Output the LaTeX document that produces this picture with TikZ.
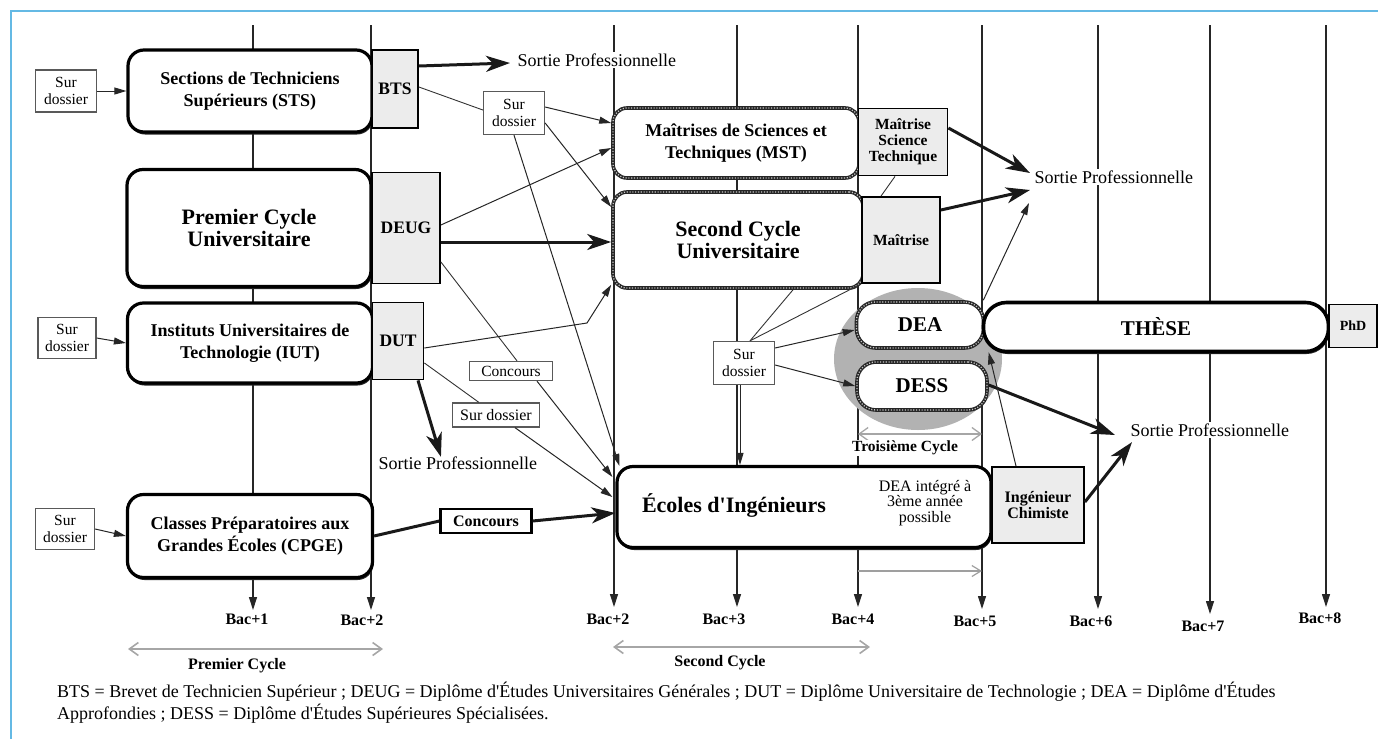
\documentclass[tikz,border=0pt]{standalone}
\usepackage{fontspec}
\setmainfont{Liberation Serif}[Ligatures=TeXOff]
\usetikzlibrary{arrows.meta,shapes.geometric,shadows,calc}
\definecolor{framecol}{RGB}{100,185,228}
\definecolor{labfill}{RGB}{236,236,236}
\begin{document}
\begin{tikzpicture}[x=1pt,y=-1pt,
  titlefont/.style={font=\bfseries\fontsize{18}{21.5}\selectfont},
  bigfont/.style={font=\bfseries\fontsize{22}{22}\selectfont},
  bigbox/.style={draw=black, line width=3.2pt, fill=white, rounded corners=16pt,
    drop shadow={shadow xshift=1pt, shadow yshift=-2.5pt, opacity=1, fill=black!85},
    titlefont, align=center, inner sep=0pt},
  dotbox/.style={draw=black!85, line width=3.6pt, fill=white, rounded corners=14pt,
    postaction={draw=gray!45, line width=1.3pt, dash pattern=on 1.1pt off 1.7pt},
    titlefont, align=center, inner sep=0pt},
  labbox/.style={draw=black, line width=1.8pt, fill=labfill, align=center, inner sep=0pt,
    font=\bfseries\fontsize{17.5}{20}\selectfont},
  sdbox/.style={draw=black!65, line width=1.3pt, fill=white, align=center, inner sep=0pt,
    font=\fontsize{15.5}{17}\selectfont},
  sortie/.style={fill=white, inner sep=1.5pt, font=\fontsize{18}{20}\selectfont},
  baclab/.style={font=\bfseries\fontsize{16}{17}\selectfont, inner sep=1pt},
  cyclab/.style={font=\bfseries\fontsize{16}{18}\selectfont, inner sep=1pt},
  axis/.style={draw=black!85, line width=1.2pt, -{Triangle[length=13pt,width=8pt]}},
  arr/.style={draw=black!85, line width=1pt, -{Triangle[length=12pt,width=7pt]}},
  thinline/.style={draw=black!80, line width=0.9pt},
  thickline/.style={draw=black!90, line width=3pt},
  thickarr/.style={draw=black!90, line width=3pt, -{Stealth[length=24pt,width=16pt,inset=7pt]}},
  cyclearr/.style={draw=gray!70, line width=1.6pt, {Straight Barb[length=9pt,width=13pt]}-{Straight Barb[length=9pt,width=13pt]}},
  openarr/.style={draw=gray!75, line width=1.2pt, -{Straight Barb[length=9pt,width=11pt]}},
  frame/.style={draw=framecol, line width=2pt}
]
\useasboundingbox (0,0) rectangle (1378,739);
% frame
\coordinate (fTL) at (11,11);
\coordinate (fTR) at (1378,11);
\coordinate (fBL) at (11,739);
\draw[frame] (fTR) -- (fTL) -- (fBL);

% time axes
\foreach \n/\x/\e in {1/253/610, 2/371/610, 3/614/607, 4/737/607, 5/858/607, 6/982/609, 7/1098/609, 8/1210/614, 9/1326/607} {
  \coordinate (top\n) at (\x,25);
  \coordinate (bot\n) at (\x,\e);
  \draw[axis] (top\n) -- (bot\n);
}
\node[baclab] (lab1) at (247,619) {Bac+1};
\node[baclab] (lab2) at (362,620) {Bac+2};
\node[baclab] (lab3) at (608,619) {Bac+2};
\node[baclab] (lab4) at (724,619) {Bac+3};
\node[baclab] (lab5) at (853,619) {Bac+4};
\node[baclab] (lab6) at (975,621) {Bac+5};
\node[baclab] (lab7) at (1091,621) {Bac+6};
\node[baclab] (lab8) at (1203,626) {Bac+7};
\node[baclab] (lab9) at (1320,618) {Bac+8};

% cycles
\coordinate (pc1) at (128,649);
\coordinate (pc2) at (383,649);
\draw[cyclearr] (pc1) -- (pc2);
\node[cyclab] (pclab) at (237,666) {Premier Cycle};
\coordinate (sc1) at (613,647);
\coordinate (sc2) at (870,647);
\draw[cyclearr] (sc1) -- (sc2);
\node[cyclab] (sclab) at (720,663) {Second Cycle};

% grey blob
\node[ellipse, fill=gray!60, minimum width=168pt, minimum height=142pt, inner sep=0pt] (blob) at (918,359) {};

% left column
\node[sdbox, minimum width=61pt, minimum height=42pt] (sd1) at (66,91) {Sur\\dossier};
\node[sdbox, minimum width=58pt, minimum height=41pt] (sd2) at (67,338) {Sur\\dossier};
\node[sdbox, minimum width=59pt, minimum height=41pt] (sd3) at (65,529) {Sur\\dossier};

\node[bigbox, minimum width=244pt, minimum height=82pt] (sts) at (250,91) {Sections de Techniciens\\Supérieurs (STS)};
\node[labbox, minimum width=46pt, minimum height=78pt] (bts) at (395,89) {BTS};
\node[bigbox, bigfont, minimum width=244pt, minimum height=117pt] (pcu) at (249,228) {Premier Cycle\\Universitaire};
\node[labbox, minimum width=68pt, minimum height=111pt] (deug) at (406,228) {DEUG};
\node[bigbox, minimum width=245pt, minimum height=80pt] (iut) at (250,343) {Instituts Universitaires de\\Technologie (IUT)};
\node[labbox, minimum width=51pt, minimum height=77pt] (dut) at (398,341) {DUT};
\node[bigbox, minimum width=245pt, minimum height=83pt] (cpge) at (250,536) {Classes Préparatoires aux\\Grandes Écoles (CPGE)};

% middle
\node[sortie, anchor=west] (sortieA) at (516,60) {Sortie Professionnelle};
\node[sortie, anchor=west] (sortieB) at (377,463) {Sortie Professionnelle};
\node[sdbox, minimum width=61pt, minimum height=43pt] (sd4) at (514,113) {Sur\\dossier};
\node[sdbox, minimum width=83pt, minimum height=19pt] (conc1) at (511,371) {Concours};
\node[sdbox, minimum width=87pt, minimum height=24pt, font=\fontsize{16}{18}\selectfont] (sd5) at (496,415) {Sur dossier};
\node[draw=black, line width=2.2pt, fill=white, inner sep=0pt, minimum width=91pt, minimum height=24pt, font=\bfseries\fontsize{16}{18}\selectfont] (conc2) at (486,521) {Concours};

% second cycle
\node[dotbox, minimum width=246pt, minimum height=70pt] (mst) at (736,143) {Maîtrises de Sciences et\\Techniques (MST)};
\node[labbox, font=\bfseries\fontsize{15.5}{16}\selectfont, minimum width=89pt, minimum height=67pt] (mstlab) at (903,142) {Maîtrise\\Science\\Technique};
\node[dotbox, bigfont, minimum width=250pt, minimum height=96pt] (scu) at (738,240) {Second Cycle\\Universitaire};
\node[labbox, font=\bfseries\fontsize{15.5}{16}\selectfont, minimum width=78pt, minimum height=86pt] (maitrise) at (901,240) {Maîtrise};

% third cycle
\node[dotbox, font=\bfseries\fontsize{21}{22}\selectfont, rounded corners=19pt, minimum width=127pt, minimum height=46pt] (dea) at (920,325) {DEA};
\node[dotbox, font=\bfseries\fontsize{21}{22}\selectfont, rounded corners=19pt, minimum width=130pt, minimum height=48pt] (dess) at (922,386) {DESS};
\node[bigbox, font=\bfseries\fontsize{21}{22}\selectfont, rounded corners=23pt, line width=3.6pt, minimum width=345pt, minimum height=49pt] (these) at (1156,327) {THÈSE};
\node[labbox, font=\bfseries\fontsize{14}{16}\selectfont, minimum width=48pt, minimum height=43pt] (phd) at (1353,326) {PhD};
\node[sdbox, minimum width=61pt, minimum height=43pt] (sd6) at (744,363) {Sur\\dossier};
\coordinate (tc1) at (858,434);
\coordinate (tc2) at (982,434);
\draw[cyclearr, line width=1.3pt] (tc1) -- (tc2);
\node[cyclab, fill=white, font=\bfseries\fontsize{15.5}{17}\selectfont] (tclab) at (905,448) {Troisième Cycle};

% ecoles
\node[bigbox, minimum width=374pt, minimum height=81pt] (ecoles) at (804,507) {};
\node[bigfont, inner sep=0pt] (ecoltxt) at (734,505) {Écoles d'Ingénieurs};
\node[align=center, inner sep=0pt, font=\fontsize{16}{15.5}\selectfont] (deaint) at (925,503) {DEA intégré à\\3ème année\\possible};
\node[labbox, font=\bfseries\fontsize{16}{16.7}\selectfont, minimum width=92pt, minimum height=76pt] (ingchim) at (1038,505) {Ingénieur\\Chimiste};
\coordinate (oa1) at (858,571);
\coordinate (oa2) at (982,571);
\draw[openarr] (oa1) -- (oa2);

% right sorties
\node[sortie, anchor=west] (sortieC) at (1033,177) {Sortie Professionnelle};
\node[sortie, anchor=west] (sortieD) at (1129,430) {Sortie Professionnelle};

% connectors
\draw[arr] (sd1.east) -- (sts.west);
\draw[arr] (sd2.east) -- (iut.west);
\draw[arr] (sd3.east) -- (cpge.west);
\draw[thickarr] ([yshift=23pt]bts.east) -- ([xshift=-6pt,yshift=-3pt]sortieA.west);
\draw[thinline] ([yshift=2pt]bts.east) -- ([yshift=3pt]sd4.west);
\draw[arr] ([yshift=6pt]sd4.east) -- ([yshift=20pt]mst.west);
\draw[arr] ([yshift=-10pt]sd4.east) -- ([yshift=33pt]scu.west);
\draw[arr] (sd4.south) -- ([xshift=4pt,yshift=-1pt]ecoles.north west);
\draw[arr] ([yshift=3pt]deug.east) -- ([yshift=-5pt]mst.west);
\draw[thickarr] ([yshift=-14pt]deug.east) -- ([yshift=-2pt]scu.west);
\draw[thinline] ([yshift=-34pt]deug.east) -- ([xshift=6pt]conc1.north);
\draw[arr] ([xshift=26pt]conc1.south) -- ([xshift=-3pt,yshift=30pt]ecoles.west);
\coordinate (dutbend) at (587,323);
\draw[arr] ([yshift=-7pt]dut.east) -- (dutbend) -- ([yshift=5pt]scu.south west);
\draw[thinline] ([yshift=-22pt]dut.east) -- ([xshift=27pt]sd5.north west);
\draw[arr] ([xshift=19pt]sd5.south) -- ([xshift=-3pt,yshift=10pt]ecoles.west);
\draw[thickarr] ([xshift=20pt]dut.south) -- ([xshift=-17pt,yshift=-2pt]sortieB.north);
\draw[thickline] (cpge.east) -- (conc2.west);
\draw[thickarr] (conc2.east) -- ([yshift=-6pt]ecoles.west);
\draw[thickarr] ([yshift=14pt]mstlab.east) -- ([xshift=-3pt,yshift=4pt]sortieC.west);
\draw[thickarr] ([yshift=30pt]maitrise.east) -- ([xshift=-3pt,yshift=-13pt]sortieC.west);
\draw[arr] ([xshift=-2pt]dea.north east) -- ([xshift=-4pt,yshift=-26pt]sortieC.west);
\draw[thinline] ([xshift=-8pt]mstlab.south) -- ([xshift=-20pt]maitrise.north);
\draw[thinline] ([xshift=6pt]sd6.north) -- ([xshift=55pt]scu.south);
\draw[thinline] ([xshift=6pt]sd6.north) -- (maitrise.south west);
\draw[arr] ([yshift=15pt]sd6.east) -- ([yshift=-5pt]dea.west);
\draw[arr] ([yshift=-2pt]sd6.east) -- (dess.west);
\draw[arr] ([xshift=-4pt]sd6.south) -- ([xshift=-64pt]ecoles.north);
\draw[thickarr] ([yshift=1pt]dess.east) -- ([xshift=-14pt,yshift=-5pt]sortieD.west);
\draw[arr] ([xshift=-22pt]ingchim.north) -- ([xshift=7pt,yshift=1pt]these.south west);
\draw[thickarr] ([yshift=3pt]ingchim.east) -- ([xshift=3pt,yshift=-4pt]sortieD.south west);

% footnote
\node[anchor=north west, align=left, inner sep=0pt, font=\fontsize{18}{22}\selectfont] (foot) at (57,682)
  {BTS = Brevet de Technicien Supérieur ; DEUG = Diplôme d'Études Universitaires Générales ; DUT = Diplôme Universitaire de Technologie ; DEA = Diplôme d'Études\\
   Approfondies ; DESS = Diplôme d'Études Supérieures Spécialisées.};
\end{tikzpicture}
\end{document}
